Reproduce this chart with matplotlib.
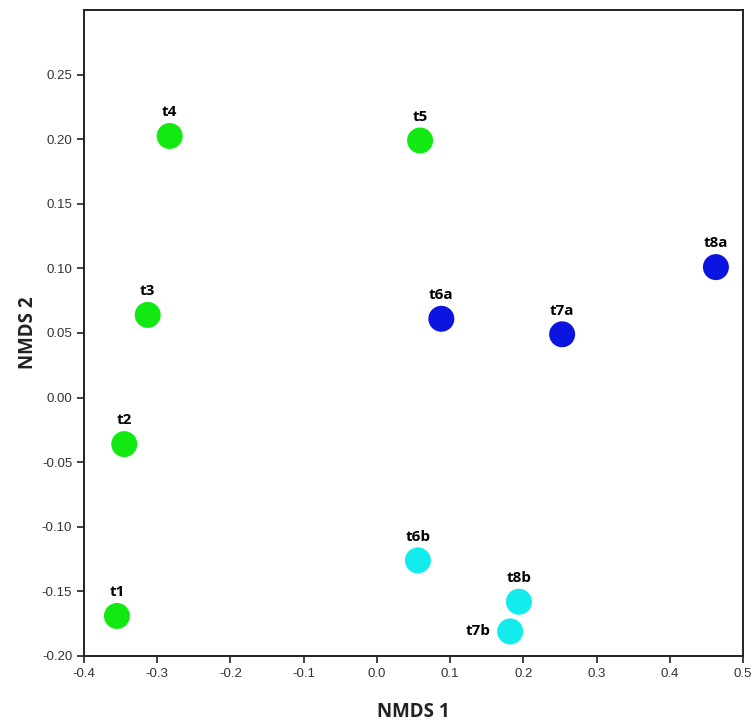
import matplotlib.pyplot as plt

# NMDS coordinates
etiquetas = ['t1', 't2', 't3', 't4', 't5', 't6a', 't7a', 't8a', 't6b', 't8b', 't7b']
nmds1 = [-0.355, -0.345, -0.313, -0.283, 0.059, 0.088, 0.253, 0.463, 0.056, 0.194, 0.182]
nmds2 = [-0.169, -0.036, 0.064, 0.2025, 0.199, 0.061, 0.049, 0.101, -0.126, -0.158, -0.181]
grupos = ['g', 'g', 'g', 'g', 'g', 'a', 'a', 'a', 'b', 'b', 'b']

colores = {'g': '#12e812', 'a': '#0c14e0', 'b': '#12ecec'}

fig = plt.figure(figsize=(7.54, 7.23), dpi=100)
ax = fig.add_axes([84 / 754, (723 - 656) / 723, (743 - 84) / 754, (656 - 10) / 723])

for x, y, g, lab in zip(nmds1, nmds2, grupos, etiquetas):
    ax.scatter(x, y, s=350, color=colores[g], edgecolors='none', zorder=3)
    if lab == 't7b':
        ax.annotate(lab, (x, y), xytext=(-14, 0), textcoords='offset points',
                    ha='right', va='center', fontsize=11, fontweight='bold',
                    family='Open Sans')
    else:
        ax.annotate(lab, (x, y), xytext=(0, 12), textcoords='offset points',
                    ha='center', va='bottom', fontsize=11, fontweight='bold',
                    family='Open Sans')

ax.set_xlim(-0.4, 0.5)
ax.set_ylim(-0.2, 0.3)
ax.set_xticks([-0.4, -0.3, -0.2, -0.1, 0.0, 0.1, 0.2, 0.3, 0.4, 0.5])
ax.set_xticklabels(['-0.4', '-0.3', '-0.2', '-0.1', '0.0', '0.1', '0.2', '0.3', '0.4', '0.5'])
yt = [-0.2, -0.15, -0.1, -0.05, 0.0, 0.05, 0.1, 0.15, 0.2, 0.25]
ax.set_yticks(yt)
ax.set_yticklabels([f'{v:.2f}' for v in yt])
ax.tick_params(direction='out', length=5, width=1.2, labelsize=9.5, colors='#222222',
               labelcolor='#333333')
for t in ax.get_xticklabels() + ax.get_yticklabels():
    t.set_family('Liberation Sans')
for sp in ax.spines.values():
    sp.set_linewidth(1.4)
    sp.set_color('#222222')

ax.set_xlabel('NMDS 1', fontsize=13.5, fontweight='bold', color='#222222',
              family='Open Sans', labelpad=16)
ax.set_ylabel('NMDS 2', fontsize=13.5, fontweight='bold', color='#222222',
              family='Open Sans', labelpad=3)

fig.savefig('out.png', dpi=100)
